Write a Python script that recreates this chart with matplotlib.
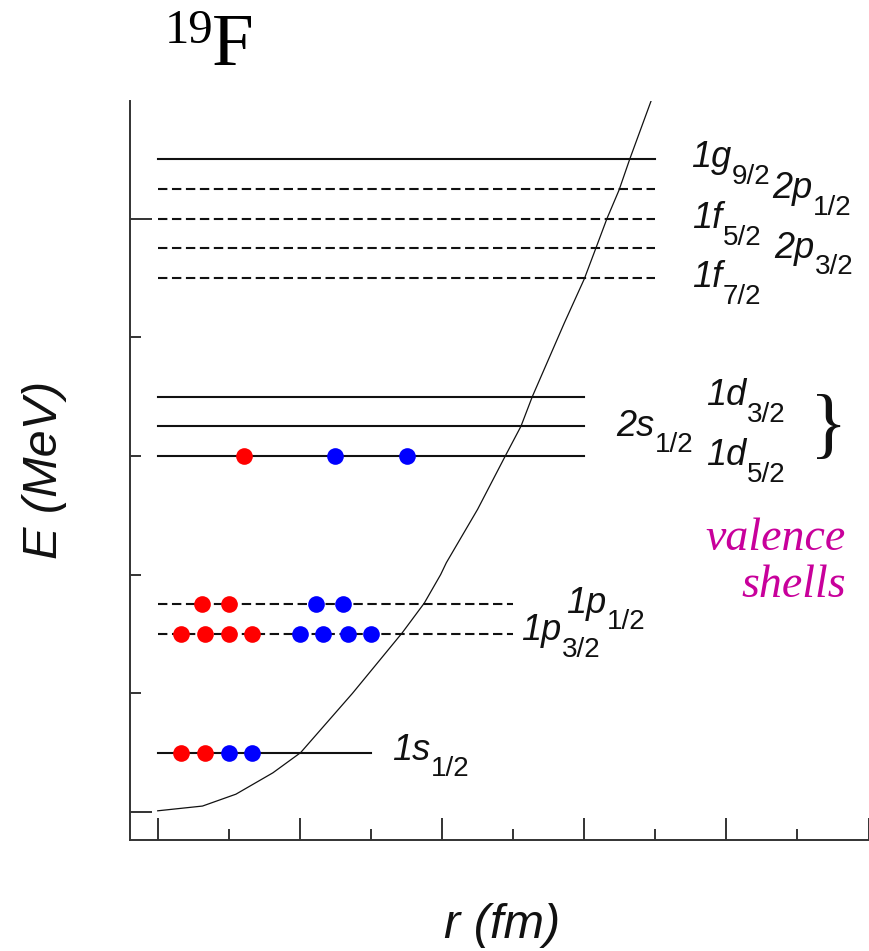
import matplotlib
matplotlib.use("Agg")
import matplotlib.pyplot as plt
from matplotlib.ticker import FixedLocator

# shell model levels for 19F (harmonic oscillator well)
level_names = ["1s1/2", "1p3/2", "1p1/2", "1d5/2", "2s1/2", "1d3/2",
               "1f7/2", "2p3/2", "1f5/2", "2p1/2", "1g9/2"]
level_energy = [5.0, 15.0, 17.5, 30.0, 32.5, 35.0, 45.0, 47.5, 50.0, 52.5, 55.0]
level_end_r = [3.0, 5.0, 5.0, 6.0, 6.0, 6.0, 7.0, 7.0, 7.0, 7.0, 7.0]
level_dashed = [False, True, True, False, False, False, True, True, True, True, False]
level_orbit = ["1s", "1p", "1p", "1d", "2s", "1d", "1f", "2p", "1f", "2p", "1g"]
level_j = ["1/2", "3/2", "1/2", "5/2", "1/2", "3/2", "7/2", "3/2", "5/2", "1/2", "9/2"]

# potential curve
well_r = [0.0, 0.63, 1.1, 1.62, 2.01, 2.74, 3.44, 3.75, 3.98, 4.06, 4.5,
          4.89, 5.11, 5.27, 5.72, 6.0, 6.17, 6.32, 6.49, 6.64, 6.94]
well_E = [0.1, 0.5, 1.5, 3.3, 5.0, 10.0, 15.1, 17.6, 20.0, 21.0, 25.5,
          30.0, 32.5, 35.0, 41.2, 44.9, 47.6, 50.0, 52.4, 55.0, 59.9]

# occupied orbits: 9 protons, 10 neutrons
proton_level = ["1s1/2"] * 2 + ["1p3/2"] * 4 + ["1p1/2"] * 2 + ["1d5/2"]
proton_r = [0.33, 0.67, 0.33, 0.67, 1.0, 1.33, 0.62, 1.0, 1.21]
neutron_level = ["1s1/2"] * 2 + ["1p3/2"] * 4 + ["1p1/2"] * 2 + ["1d5/2"] * 2
neutron_r = [1.0, 1.33, 2.0, 2.33, 2.67, 3.0, 2.22, 2.6, 2.5, 3.5]

# where each level label sits (left edge, baseline) in data units
label_pos = {
    "1s1/2": (3.30, 4.4), "1p3/2": (5.11, 14.5), "1p1/2": (5.74, 16.8),
    "1d5/2": (7.71, 29.2), "2s1/2": (6.45, 31.7), "1d3/2": (7.71, 34.3),
    "1f7/2": (7.51, 44.2), "2p3/2": (8.67, 46.7), "1f5/2": (7.51, 49.2),
    "2p1/2": (8.64, 51.7), "1g9/2": (7.50, 54.3),
}

INK = "#111111"
W, H = 870, 951
fig = plt.figure(figsize=(W / 100, H / 100), dpi=100)
ax = fig.add_axes([130 / W, (H - 840) / H, (W - 130) / W, (840 - 101) / H])
ax.set_xlim(-0.39, 10.02)
ax.set_ylim(-2.36, 59.9)

for spine in ("top", "right"):
    ax.spines[spine].set_visible(False)
for spine in ("left", "bottom"):
    ax.spines[spine].set_linewidth(1.4)
    ax.spines[spine].set_color("#333333")

ax.xaxis.set_major_locator(FixedLocator([0, 2, 4, 6, 8, 10]))
ax.xaxis.set_minor_locator(FixedLocator([1, 3, 5, 7, 9]))
ax.yaxis.set_major_locator(FixedLocator([0, 50]))
ax.yaxis.set_minor_locator(FixedLocator([10, 20, 30, 40, 60]))
ax.tick_params(which="both", direction="in", labelbottom=False, labelleft=False,
               color="#333333", width=1.4)
ax.tick_params(which="major", length=16)
ax.tick_params(which="minor", length=8)

ax.plot(well_r, well_E, color=INK, lw=0.9, zorder=2)

renderer = fig.canvas.get_renderer()
energy_of = dict(zip(level_names, level_energy))
for name, e, r_end, dashed, orb, j in zip(level_names, level_energy, level_end_r,
                                          level_dashed, level_orbit, level_j):
    line, = ax.plot([0, r_end], [e, e], color=INK, lw=1.5, zorder=1)
    if dashed:
        line.set_dashes((4.5, 2.2))
    lx, ly = label_pos[name]
    main = ax.text(lx, ly, orb, fontsize=26, family="Liberation Sans", style="italic",
                   ha="left", va="baseline", color=INK)
    w_pt = main.get_window_extent(renderer).width * 72 / fig.dpi
    ax.annotate(j, xy=(lx, ly), xytext=(w_pt + 0.5, -12), textcoords="offset points",
                fontsize=20, family="Liberation Sans", ha="left", va="baseline",
                color=INK)

ax.plot(proton_r, [energy_of[n] for n in proton_level], "o", color="#ff0000",
        ms=12, mec="none", zorder=3, clip_on=False)
ax.plot(neutron_r, [energy_of[n] for n in neutron_level], "o", color="#0000ff",
        ms=12, mec="none", zorder=3, clip_on=False)

# brace and annotation for the sd shell
fig.text(829 / W, 1 - 430 / H, "}", fontsize=56, family="Liberation Serif",
         ha="center", va="center", color=INK)
fig.text(846 / W, 1 - 550 / H, "valence", fontsize=33, family="Liberation Serif",
         style="italic", ha="right", va="baseline", color="#c8009b")
fig.text(846 / W, 1 - 597 / H, "shells", fontsize=33, family="Liberation Serif",
         style="italic", ha="right", va="baseline", color="#c8009b")

# title 19F
fig.text(213 / W, 1 - 43 / H, "19", fontsize=35, family="Liberation Serif",
         ha="right", va="baseline")
fig.text(212 / W, 1 - 65 / H, "F", fontsize=54, family="Liberation Serif",
         ha="left", va="baseline")

fig.text(45 / W, 1 - 470 / H, "E (MeV)", fontsize=35, family="Liberation Sans",
         style="italic", rotation=90, ha="center", va="center", color=INK)
fig.text(502 / W, 1 - 938 / H, "r (fm)", fontsize=35, family="Liberation Sans",
         style="italic", ha="center", va="baseline", color=INK)

fig.savefig("out.png", dpi=100)
